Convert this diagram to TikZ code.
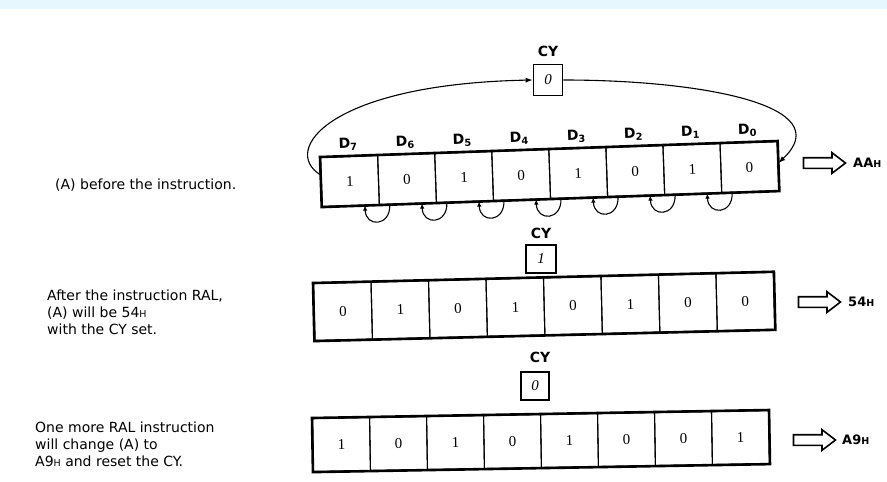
\documentclass[tikz,border=0pt]{standalone}
\usepackage{fontspec}
\setmainfont{DejaVu Sans}
\newfontfamily\digitfont{Liberation Serif}
\usetikzlibrary{calc,arrows.meta,shapes.arrows}
\begin{document}
\begin{tikzpicture}[x=1pt,y=-1pt,
  outer/.style={line width=2.6pt, line join=miter},
  cellA/.style={draw, line width=1.1pt, minimum width=57.1pt, minimum height=49pt, inner sep=0pt, anchor=north west, font=\digitfont\fontsize{15}{15}\selectfont},
  cellB/.style={draw, line width=1.1pt, minimum width=57.5pt, minimum height=57pt, inner sep=0pt, anchor=north west, font=\digitfont\fontsize{15}{15}\selectfont},
  cellC/.style={draw, line width=1.1pt, minimum width=57pt, minimum height=53pt, inner sep=0pt, anchor=north west, font=\digitfont\fontsize{15}{15}\selectfont},
  dlab/.style={font=\fontsize{14}{14}\selectfont\bfseries, inner sep=0pt},
  cybox/.style={draw, line width=1.6pt, inner sep=0pt, font=\digitfont\fontsize{15}{15}\selectfont\itshape},
  cylab/.style={font=\fontsize{14}{14}\selectfont\bfseries, inner sep=0pt},
  small/.style={line width=1.1pt, -{Latex[length=5pt,width=4.5pt]}},
  big/.style={line width=1.1pt, -{Latex[length=7pt,width=5pt]}},
  desc/.style={font=\fontsize{14}{16.8}\selectfont, align=left, inner sep=0pt, anchor=north west},
  hollow/.style={single arrow, draw, line width=1.6pt, minimum height=42pt, minimum width=20pt, single arrow head extend=5pt, single arrow tip angle=75, inner sep=4.5pt},
  hexlab/.style={font=\fontsize{13}{13}\selectfont\bfseries, inner sep=0pt, anchor=west}]
\useasboundingbox (0,0) rectangle (887,482);
\fill[cyan!10] (0,0) rectangle (887,9);

% ---------- register 1 ----------
\begin{scope}[shift={(320,157)}, rotate=2, transform shape]
  \foreach \v [count=\k from 0] in {1,0,1,0,1,0,1,0} {
    \node[cellA] (a\k) at ({\k*57.1},0) {\v};
    \pgfmathtruncatemacro{\dd}{7-\k}
    \node[dlab] (d\k) at ({(\k+0.5)*57.1},-12) {D\textsubscript{\dd}};
  }
  \draw[outer] (a0.north west) -- (a7.north east) -- (a7.south east) -- (a0.south west) -- cycle;
  \foreach \k [evaluate=\k as \j using int(\k+1)] in {0,...,6} {
    \draw[small] ($(a\j.south west)+(11,0)$) .. controls ($(a\j.south west)+(11,22)$) and ($(a\k.south east)+(-15,22)$) .. ($(a\k.south east)+(-15,0)$);
  }
  \coordinate (inR) at ($(a7.north east)+(0,22)$);
  \coordinate (outL) at ($(a0.north west)+(0,18)$);
\end{scope}

\node[cylab] (cyl1) at (548,51) {CY};
\node[cybox, minimum width=29pt, minimum height=31pt] (cy1) at (548,80) {0};
\draw[big] (outL) .. controls (280,150) and (330,84) .. (cy1.west);
\draw[big] (cy1.east) .. controls (700,80) and (840,105) .. (inR);

\node[desc, anchor=west] (t1) at (55,185) {(A) before the instruction.};
\node[hollow] (h1) at (821,163) {};
\node[hexlab] (x1) at (853,163) {AA{\fontsize{9.5}{9.5}\selectfont H}};

% ---------- register 2 ----------
\node[cylab] (cyl2) at (541,233) {CY};
\node[cybox, minimum width=30pt, minimum height=28pt] (cy2) at (541,259) {1};
\begin{scope}[shift={(313,283)}, rotate=1.4, transform shape]
  \foreach \v [count=\k from 0] in {0,1,0,1,0,1,0,0} {
    \node[cellB] (b\k) at ({\k*57.5},0) {\v};
  }
  \draw[outer] (b0.north west) -- (b7.north east) -- (b7.south east) -- (b0.south west) -- cycle;
\end{scope}
\node[desc] (t2) at (47,290) {After the instruction RAL,\\(A) will be 54{\fontsize{9.5}{9.5}\selectfont H}\\with the CY set.};
\node[hollow] (h2) at (816,302) {};
\node[hexlab] (x2) at (848,302) {54{\fontsize{9.5}{9.5}\selectfont H}};

% ---------- register 3 ----------
\node[cylab] (cyl3) at (540,357) {CY};
\node[cybox, minimum width=28pt, minimum height=28pt] (cy3) at (535,386) {0};
\begin{scope}[shift={(312,418)}, rotate=1, transform shape]
  \foreach \v [count=\k from 0] in {1,0,1,0,1,0,0,1} {
    \node[cellC] (c\k) at ({\k*57},0) {\v};
  }
  \draw[outer] (c0.north west) -- (c7.north east) -- (c7.south east) -- (c0.south west) -- cycle;
\end{scope}
\node[desc] (t3) at (35,422) {One more RAL instruction\\will change (A) to\\A9{\fontsize{9.5}{9.5}\selectfont H} and reset the CY.};
\node[hollow] (h3) at (811,440) {};
\node[hexlab] (x3) at (842,440) {A9{\fontsize{9.5}{9.5}\selectfont H}};
\end{tikzpicture}
\end{document}
